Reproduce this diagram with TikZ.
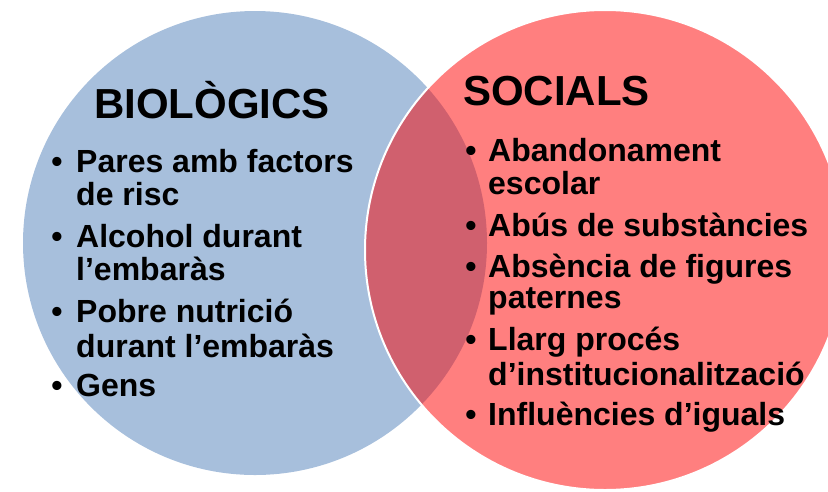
\documentclass[tikz,border=0pt]{standalone}
\usepackage{fontspec}
\setmainfont{Liberation Sans}
\definecolor{bioblue}{HTML}{A7BFDC}
\definecolor{socred}{HTML}{FF7F7F}
\definecolor{overlapc}{HTML}{D0606E}
\tikzset{
  titletext/.style={anchor=base west, inner sep=0pt, font=\fontsize{42}{44}\selectfont\bfseries},
  itemtext/.style={anchor=base west, inner sep=0pt, font=\fontsize{32}{34}\selectfont\bfseries},
  bullettext/.style={anchor=base, inner sep=0pt, font=\fontsize{32}{34}\selectfont\bfseries}
}
\begin{document}
\begin{tikzpicture}[x=1pt,y=-1pt]
\useasboundingbox (0,0) rectangle (828,491);
\clip (0,0) rectangle (828,491);
% circles
\fill[bioblue] (255,243) circle (232pt);
\fill[socred] (605,250) circle (240pt);
\begin{scope}
  \clip (255,243) circle (232pt);
  \fill[overlapc] (605,250) circle (240pt);
\end{scope}
\draw[white, line width=2pt] (605,250) circle (240pt);
% titles
\node[titletext] (tbio) at (94,118) {BIOLÒGICS};
\node[titletext] (tsoc) at (463,105) {SOCIALS};
% left items
\node[bullettext] (bl1) at (57,172) {•};
\node[itemtext] (l1a) at (76,172) {Pares amb factors};
\node[itemtext] (l1b) at (76,205) {de risc};
\node[bullettext] (bl2) at (57,247) {•};
\node[itemtext] (l2a) at (76,247) {Alcohol durant};
\node[itemtext] (l2b) at (76,280) {l’embaràs};
\node[bullettext] (bl3) at (57,322) {•};
\node[itemtext] (l3a) at (76,322) {Pobre nutrició};
\node[itemtext] (l3b) at (76,357) {durant l’embaràs};
\node[bullettext] (bl4) at (57,396) {•};
\node[itemtext] (l4a) at (76,396) {Gens};
% right items
\node[bullettext] (br1) at (471,161) {•};
\node[itemtext] (r1a) at (488,161) {Abandonament};
\node[itemtext] (r1b) at (488,194) {escolar};
\node[bullettext] (br2) at (471,236) {•};
\node[itemtext] (r2a) at (488,236) {Abús de substàncies};
\node[bullettext] (br3) at (471,277) {•};
\node[itemtext] (r3a) at (488,277) {Absència de figures};
\node[itemtext] (r3b) at (488,308) {paternes};
\node[bullettext] (br4) at (471,350) {•};
\node[itemtext] (r4a) at (488,350) {Llarg procés};
\node[itemtext] (r4b) at (488,385) {d’institucionalització};
\node[bullettext] (br5) at (471,425) {•};
\node[itemtext] (r5a) at (488,425) {Influències d’iguals};
\end{tikzpicture}
\end{document}
